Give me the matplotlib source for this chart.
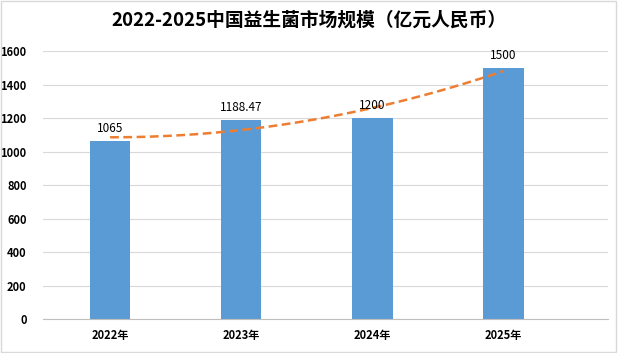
import numpy as np
import matplotlib
matplotlib.use("Agg")
from matplotlib import pyplot as plt
from matplotlib.patches import Rectangle

plt.rcParams['font.family'] = ['Noto Sans CJK SC', 'DejaVu Sans']

years = ['2022年', '2023年', '2024年', '2025年']
market = [1065, 1188.47, 1200, 1500]
value_labels = ['1065', '1188.47', '1200', '1500']

fig = plt.figure(figsize=(6.18, 3.53), dpi=100)
ax = fig.add_axes([0.070, 0.0963, 0.914, 0.7592])

x = np.arange(len(years))
ax.bar(x, market, width=0.31, color='#5B9BD5', zorder=2)

# polynomial (order 2) trend line, like Excel's
coef = np.polyfit(x, market, 2)
xs = np.linspace(0, len(years) - 1, 100)
ax.plot(xs, np.polyval(coef, xs), color='#ED7D31', lw=1.8, ls=(0, (3.5, 1.8)), zorder=3)

for xi, v, t in zip(x, market, value_labels):
    ax.text(xi, v + 35, t, ha='center', va='bottom', fontsize=8.5, color='#000000', zorder=4)

ax.set_xlim(-0.51, 3.8)
ax.set_ylim(0, 1600)
ax.set_yticks(range(0, 1601, 200))
ax.set_xticks(x)
ax.set_xticklabels(years, fontsize=8, fontweight='bold')
ax.tick_params(axis='y', labelsize=8, length=0, pad=12)
ax.tick_params(axis='x', length=0, pad=7)
for lab in ax.get_yticklabels():
    lab.set_fontweight('bold')
ax.grid(axis='y', color='#D9D9D9', lw=0.8, zorder=0)
for s in ['top', 'right', 'left']:
    ax.spines[s].set_visible(False)
ax.spines['bottom'].set_color('#BFBFBF')
ax.spines['bottom'].set_linewidth(0.8)

fig.text(0.5, 0.943, '2022-2025中国益生菌市场规模（亿元人民币）', ha='center', va='center',
         fontsize=13.5, fontweight='bold', color='#000000')

fig.patches.append(Rectangle((0.002, 0.003), 0.995, 0.993, transform=fig.transFigure,
                             fill=False, edgecolor='#D9D9D9', lw=1))

fig.savefig('out.png', dpi=100)
